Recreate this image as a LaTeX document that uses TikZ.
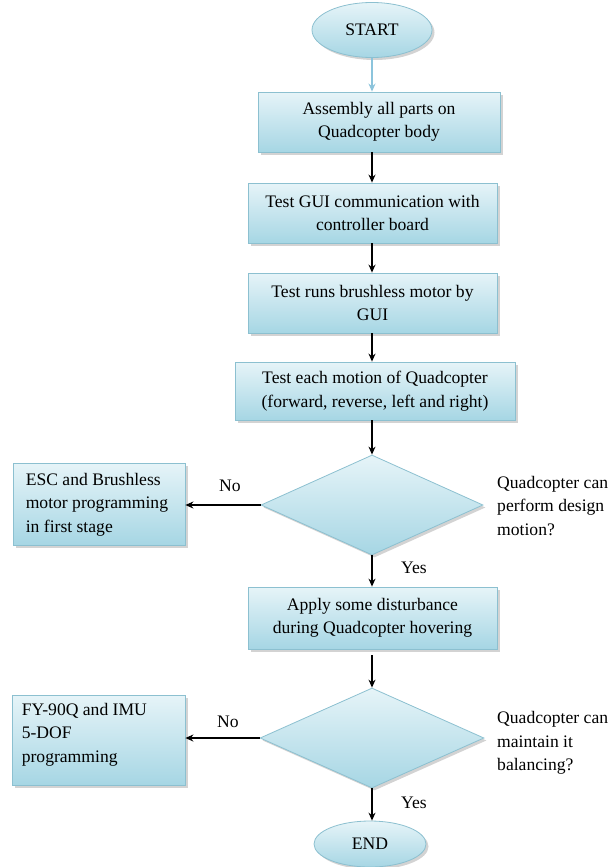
\documentclass[tikz,border=0pt]{standalone}
\usepackage{fontspec}
\setmainfont{Liberation Serif}
\usetikzlibrary{shapes.geometric,shadows,arrows.meta}
\definecolor{fillTop}{HTML}{E6F4F8}
\definecolor{fillBot}{HTML}{A6D6E4}
\definecolor{edge}{HTML}{8CC0D0}
\definecolor{firstarrow}{HTML}{8CC4DC}
\begin{document}
\begin{tikzpicture}[x=1pt,y=-1pt,
  every node/.style={font=\fontsize{17.6}{23.5}\selectfont},
  boxfill/.style={draw=edge, line width=0.8pt, top color=fillTop, bottom color=fillBot,
    drop shadow={opacity=0.35, shadow xshift=2.5pt, shadow yshift=-2.5pt}},
  procbox/.style={boxfill, rectangle, align=center, inner sep=0pt},
  term/.style={boxfill, ellipse, inner sep=0pt},
  decision/.style={boxfill, diamond, inner sep=0pt},
  plain/.style={inner sep=0pt, align=left},
  arr/.style={-{Stealth[length=8pt,width=7pt]}, line width=1.2pt, black}
]
\useasboundingbox (0,0) rectangle (613,867);

\node[term, minimum width=120pt, minimum height=55pt] (start) at (372,30) {START};
\node[procbox, minimum width=242pt, minimum height=60pt] (b1) at (379,122) {Assembly all parts on\\Quadcopter body};
\node[procbox, minimum width=249pt, minimum height=60pt] (b2) at (372.5,213) {Test GUI communication with\\controller board};
\node[procbox, minimum width=249pt, minimum height=60pt] (b3) at (372.5,303) {Test runs brushless motor by\\GUI};
\node[procbox, minimum width=280pt, minimum height=58pt] (b4) at (375,391) {Test each motion of Quadcopter\\(forward, reverse, left and right)};
\node[decision, minimum width=222pt, minimum height=100pt] (d1) at (372,505) {};
\node[procbox, minimum width=172pt, minimum height=82pt] (l1) at (99,504) {};
\node[plain, anchor=north west] (l1t) at ([xshift=13pt,yshift=-10pt]l1.north west) {ESC and Brushless\\motor programming\\in first stage};
\node[plain, anchor=west] (q1) at (497,506) {Quadcopter can\\perform design\\motion?};
\node[procbox, minimum width=249pt, minimum height=62pt] (b5) at (372.5,618) {Apply some disturbance\\during Quadcopter hovering};
\node[decision, minimum width=224pt, minimum height=100pt] (d2) at (372,738) {};
\node[procbox, minimum width=173pt, minimum height=90pt] (l2) at (98.5,740) {};
\node[plain, anchor=north west] (l2t) at ([xshift=10pt,yshift=-8pt]l2.north west) {FY-90Q and IMU\\5-DOF\\programming};
\node[plain, anchor=west] (q2) at (497,743) {Quadcopter can\\maintain it\\balancing?};
\node[term, minimum width=112pt, minimum height=46pt] (end) at (370,844) {END};

\node[plain] (no1) at (230,486) {No};
\node[plain] (no2) at (228,722) {No};
\node[plain] (yes1) at (414,568) {Yes};
\node[plain] (yes2) at (414,803) {Yes};

\coordinate (axis) at (372,0);
\draw[-{Stealth[length=8pt,width=7pt]}, line width=1.2pt, firstarrow] (start.south -| axis) -- (b1.north -| axis);
\draw[arr] (b1.south -| axis) -- (b2.north -| axis);
\draw[arr] (b2.south -| axis) -- (b3.north -| axis);
\draw[arr] (b3.south -| axis) -- (b4.north -| axis);
\draw[arr] (b4.south -| d1.north) -- (d1.north);
\draw[arr] (d1.west) -- (d1.west -| l1.east);
\draw[arr] (d1.south) -- (d1.south |- b5.north);
\draw[arr] ([yshift=-6pt]b5.south -| d2.north) -- (d2.north);
\draw[arr] (d2.west) -- (d2.west -| l2.east);
\draw[arr] (d2.south) -- (d2.south |- end.north);
\end{tikzpicture}
\end{document}
